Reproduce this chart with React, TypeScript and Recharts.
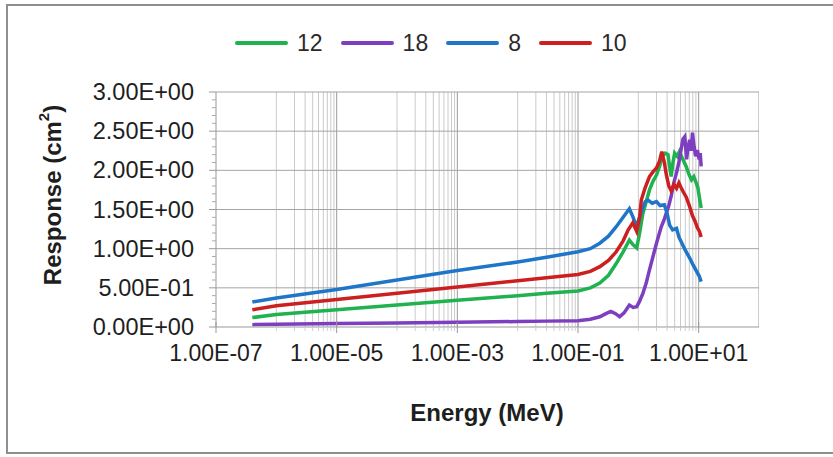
import React from "react";
import { LineChart, Line, XAxis, YAxis, ReferenceLine, Label } from "recharts";

// ---------- data ----------
const seriesNames = ["12", "18", "8", "10"];
const seriesColors = ["#1fb24e", "#7d3fbf", "#1f76c9", "#cc2020"];

const e12 = [4e-7, 1e-6, 1e-5, 1e-4, 1e-3, 1e-2, 3e-2, 0.1, 0.16, 0.23, 0.32, 0.43, 0.56, 0.71, 0.82, 0.94, 1.05, 1.19, 1.35, 1.53, 1.75, 2.0, 2.25, 2.5, 2.8, 3.1, 3.3, 3.5, 3.75, 4.0, 4.4, 4.8, 5.4, 6.2, 6.9, 7.6, 8.3, 9.1, 9.7, 10.2, 11];
const r12 = [0.12, 0.16, 0.22, 0.28, 0.34, 0.4, 0.43, 0.46, 0.5, 0.56, 0.66, 0.81, 0.96, 1.11, 1.05, 1.01, 1.2, 1.45, 1.6, 1.75, 1.86, 1.94, 2.05, 2.18, 2.22, 2.2, 2.05, 1.92, 2.1, 2.22, 2.18, 2.24, 2.15, 2.05, 1.95, 1.88, 1.92, 1.84, 1.78, 1.67, 1.52];

const e18 = [4e-7, 1e-6, 1e-5, 1e-4, 1e-3, 1e-2, 3e-2, 0.1, 0.16, 0.23, 0.29, 0.35, 0.42, 0.49, 0.58, 0.71, 0.82, 0.94, 1.05, 1.19, 1.35, 1.53, 1.75, 2.0, 2.2, 2.4, 2.65, 2.9, 3.2, 3.5, 3.9, 4.3, 4.7, 5.1, 5.5, 5.9, 6.3, 6.7, 7.1, 7.5, 7.9, 8.4, 8.9, 9.5, 10.2, 10.6, 11];
const r18 = [0.03, 0.035, 0.045, 0.05, 0.06, 0.07, 0.075, 0.08, 0.1, 0.13, 0.17, 0.2, 0.17, 0.13, 0.18, 0.28, 0.25, 0.26, 0.33, 0.43, 0.56, 0.73, 0.9, 1.07, 1.18, 1.28, 1.36, 1.45, 1.55, 1.67, 1.85, 1.97, 2.1, 2.26, 2.4, 2.43, 2.14, 2.3, 2.39, 2.25, 2.48, 2.3, 2.18, 2.26, 2.14, 2.22, 2.05];

const e8 = [4e-7, 1e-6, 1e-5, 1e-4, 1e-3, 1e-2, 3e-2, 0.1, 0.16, 0.23, 0.32, 0.43, 0.56, 0.71, 0.82, 0.93, 1.1, 1.3, 1.44, 1.7, 2.0, 2.3, 2.7, 3.0, 3.3, 3.7, 4.3, 4.7, 5.2, 6.0, 7.1, 8.0, 9.1, 10.2, 11];
const r8 = [0.32, 0.37, 0.48, 0.6, 0.72, 0.83, 0.89, 0.96, 1.0, 1.07, 1.16, 1.28, 1.4, 1.51, 1.4, 1.28, 1.45, 1.6, 1.62, 1.58, 1.6, 1.55, 1.56, 1.45, 1.3, 1.24, 1.26, 1.15, 1.08, 0.98, 0.88, 0.8, 0.72, 0.65, 0.58];

const e10 = [4e-7, 1e-6, 1e-5, 1e-4, 1e-3, 1e-2, 3e-2, 0.1, 0.16, 0.23, 0.32, 0.43, 0.56, 0.68, 0.81, 0.94, 1.05, 1.12, 1.3, 1.53, 1.75, 2.0, 2.25, 2.45, 2.7, 2.9, 3.2, 3.5, 3.9, 4.3, 4.7, 5.1, 5.6, 6.2, 7.0, 7.9, 8.7, 9.5, 10.3, 11];
const r10 = [0.22, 0.27, 0.35, 0.43, 0.51, 0.59, 0.63, 0.67, 0.71, 0.77, 0.85, 0.96, 1.1, 1.24, 1.33, 1.22, 1.4, 1.62, 1.78, 1.92, 1.98, 2.03, 2.12, 2.24, 2.1, 1.95, 1.8, 1.74, 1.82, 1.77, 1.84, 1.78, 1.72, 1.66, 1.55, 1.42, 1.35, 1.27, 1.22, 1.15];

const xMajorTicks = [1e-7, 1e-5, 1e-3, 1e-1, 1e1];
const xMinorGrid = [
  1e-6, 2e-6, 3e-6, 4e-6, 5e-6, 6e-6, 7e-6, 8e-6, 9e-6,
  1e-4, 2e-4, 3e-4, 4e-4, 5e-4, 6e-4, 7e-4, 8e-4, 9e-4,
  1e-2, 2e-2, 3e-2, 4e-2, 5e-2, 6e-2, 7e-2, 8e-2, 9e-2,
  1, 2, 3, 4, 5, 6, 7, 8, 9,
];
const yMajorTicks = [0, 0.5, 1, 1.5, 2, 2.5, 3];
const yAllTicks = [0, 0.1, 0.2, 0.3, 0.4, 0.5, 0.6, 0.7, 0.8, 0.9, 1, 1.1, 1.2, 1.3, 1.4, 1.5, 1.6, 1.7, 1.8, 1.9, 2, 2.1, 2.2, 2.3, 2.4, 2.5, 2.6, 2.7, 2.8, 2.9, 3];

const energies = [e12, e18, e8, e10];
const responses = [r12, r18, r8, r10];
const seriesData = energies.map((es, i) => es.map((x, j) => ({ x, y: responses[i][j] })));

const X_DOMAIN = [1e-7, 100];

// ---------- helpers ----------
const fmtE = (v: number) => {
  if (v === 0) return "0.00E+00";
  const e = Math.floor(Math.log10(v) + 1e-9);
  const m = v / Math.pow(10, e);
  return m.toFixed(2) + "E" + (e < 0 ? "-" : "+") + String(Math.abs(e)).padStart(2, "0");
};
const isMajorX = (v: number) => xMajorTicks.some((t) => Math.abs(Math.log10(t) - Math.log10(v)) < 1e-6);
const isMajorY = (v: number) => yMajorTicks.some((t) => Math.abs(t - v) < 1e-6);

const FONT = "'Liberation Sans', Arial, sans-serif";
const TXT = "#1e1e1e";

const XTick = (props: any) => {
  const { x, y, payload } = props;
  const v = payload.value;
  if (isMajorX(v)) {
    return (
      <g>
        <line x1={x} x2={x} y1={y - 5} y2={y + 6} stroke="#999" />
        <text x={x} y={y + 34} textAnchor="middle" fontSize={23} fontFamily={FONT} fill={TXT}>
          {fmtE(v)}
        </text>
      </g>
    );
  }
  return <line x1={x} x2={x} y1={y} y2={y + 4} stroke="#d0d0d0" />;
};

const YTick = (props: any) => {
  const { x, y, payload } = props;
  const v = payload.value;
  if (isMajorY(v)) {
    return (
      <g>
        <line x1={x - 7} x2={x} y1={y} y2={y} stroke="#999" />
        <text x={x - 22} y={y + 8} textAnchor="end" fontSize={23.5} fontFamily={FONT} fill={TXT}>
          {fmtE(v)}
        </text>
      </g>
    );
  }
  return <line x1={x - 4} x2={x} y1={y} y2={y} stroke="#aaa" />;
};

const YTitle = () => (
  <text
    x={52}
    y={195}
    transform="rotate(-90 52 195)"
    textAnchor="middle"
    dominantBaseline="central"
    fontSize={24}
    fontWeight="bold"
    fontFamily={FONT}
    fill={TXT}
  >
    Response (cm<tspan fontSize={15} dy={-9}>2</tspan>
    <tspan dy={9}>)</tspan>
  </text>
);

const XTitle = () => (
  <text x={487} y={421} textAnchor="middle" fontSize={24} fontWeight="bold" fontFamily={FONT} fill={TXT}>
    Energy (MeV)
  </text>
);

export default function App() {
  return (
    <div style={{ position: "absolute", left: 0, top: 0, width: 833, height: 457, background: "#fff", overflow: "hidden" }}>
      <div
        style={{
          position: "absolute",
          left: 6,
          top: 4,
          width: 860,
          height: 450,
          border: "2px solid #8f8f8f",
          boxSizing: "border-box",
        }}
      />
      <div
        style={{
          position: "absolute",
          left: 235,
          top: 30,
          display: "flex",
          alignItems: "center",
          fontFamily: FONT,
          fontSize: 23,
          color: "#2a2a2a",
          lineHeight: "26px",
        }}
      >
        {seriesNames.map((n, i) => (
          <div key={n} style={{ display: "flex", alignItems: "center", marginRight: 18 }}>
            <div style={{ width: 53, height: 4, background: seriesColors[i], borderRadius: 2 }} />
            <span style={{ marginLeft: 9 }}>{n}</span>
          </div>
        ))}
      </div>
      <div style={{ position: "absolute", left: 0, top: 0 }}>
        <LineChart width={833} height={457} margin={{ top: 92, right: 74, bottom: 90, left: 96 }}>
          <XAxis
            dataKey="x"
            type="number"
            scale="log"
            domain={X_DOMAIN}
            allowDataOverflow
            ticks={[...xMajorTicks, ...xMinorGrid].sort((a, b) => a - b)}
            interval={0}
            tick={<XTick />}
            tickLine={false}
            tickSize={0}
            tickMargin={0}
            height={40}
            axisLine={{ stroke: "#999" }}
          >
            <Label content={<XTitle />} />
          </XAxis>
          <YAxis
            type="number"
            domain={[0, 3]}
            ticks={yAllTicks}
            interval={0}
            tick={<YTick />}
            tickLine={false}
            tickSize={0}
            tickMargin={0}
            width={120}
            axisLine={{ stroke: "#999" }}
          >
            <Label content={<YTitle />} />
          </YAxis>
          {xMinorGrid.map((v) => (
            <ReferenceLine key={"mx" + v} x={v} stroke="#cacaca" strokeWidth={1} ifOverflow="hidden" />
          ))}
          {xMajorTicks.slice(1).concat([100]).map((v) => (
            <ReferenceLine key={"Mx" + v} x={v} stroke="#9c9c9c" strokeWidth={1} ifOverflow="hidden" />
          ))}
          {yMajorTicks.slice(1).map((v) => (
            <ReferenceLine key={"My" + v} y={v} stroke="#a4a4a4" strokeWidth={1} />
          ))}
          {seriesData.map((d, i) => (
            <Line
              key={seriesNames[i]}
              data={d}
              dataKey="y"
              name={seriesNames[i]}
              type="linear"
              stroke={seriesColors[i]}
              strokeWidth={3.5}
              dot={false}
              activeDot={false}
              isAnimationActive={false}
            />
          ))}
        </LineChart>
      </div>
    </div>
  );
}
